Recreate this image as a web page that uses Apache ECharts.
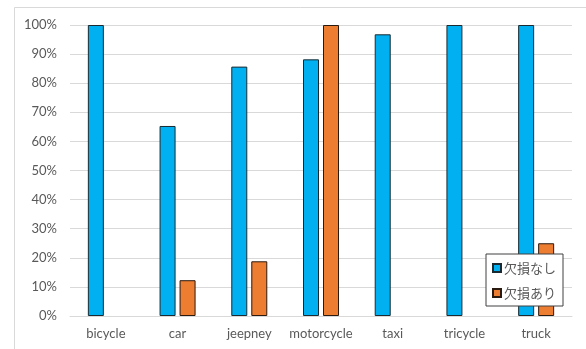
<!DOCTYPE html>
<html>
<head>
<meta charset="utf-8">
<script src="https://cdn.jsdelivr.net/npm/echarts@6/dist/echarts.min.js"></script>
<style>
  html, body { margin: 0; padding: 0; background: #fff; }
  #chart { width: 586px; height: 349px; }
</style>
</head>
<body>
<div id="chart"></div>
<script>
// Vehicle types on the category axis
const categories = ['bicycle', 'car', 'jeepney', 'motorcycle', 'taxi', 'tricycle', 'truck'];
// Share (%) without missing data
const seriesNoMissing = [100, 65.3, 85.7, 88.2, 96.8, 100, 100];
// Share (%) with missing data (null = no bar)
const seriesMissing = [null, 12.3, 18.8, 100, null, null, 25];
// Value axis tick settings
const yTicks = { min: 0, max: 100, interval: 10 };

const latin = 'Lato, "Noto Sans CJK JP", sans-serif';
const chart = echarts.init(document.getElementById('chart'), null, { renderer: 'canvas' });

chart.setOption({
  animation: false,
  backgroundColor: '#ffffff',
  textStyle: { fontFamily: latin },
  graphic: [{
    type: 'rect',
    shape: { x: 14.5, y: 7.5, width: 600, height: 400 },
    style: { fill: 'none', stroke: '#d9d9d9', lineWidth: 1 },
    silent: true,
    z: -10
  }],
  grid: { left: 70, right: 14, top: 25, bottom: 33, containLabel: false },
  legend: {
    orient: 'vertical',
    left: 486,
    top: 254,
    padding: [7, 7, 6, 6],
    itemWidth: 8,
    itemHeight: 8,
    itemGap: 11,
    backgroundColor: '#ffffff',
    borderColor: '#404040',
    borderWidth: 1,
    borderRadius: 0,
    icon: 'rect',
    textStyle: {
      fontFamily: '"Noto Sans CJK JP", sans-serif',
      fontSize: 13,
      lineHeight: 14,
      color: '#595959',
      padding: [0, 0, 0, -2]
    },
    data: ['欠損なし', '欠損あり']
  },
  xAxis: {
    type: 'category',
    data: categories,
    axisLine: { show: true, lineStyle: { color: '#d9d9d9', width: 1 } },
    axisTick: { show: false },
    axisLabel: { color: '#595959', fontSize: 13, margin: 11, interval: 0, fontFamily: latin },
    splitLine: { show: false }
  },
  yAxis: {
    type: 'value',
    min: yTicks.min,
    max: yTicks.max,
    interval: yTicks.interval,
    axisLine: { show: false },
    axisTick: { show: false },
    axisLabel: { color: '#595959', fontSize: 13, margin: 13, formatter: '{value}%', fontFamily: latin },
    splitLine: { show: true, lineStyle: { color: '#d9d9d9', width: 1 } }
  },
  series: [
    {
      name: '欠損なし',
      type: 'bar',
      data: seriesNoMissing,
      barWidth: 16,
      barGap: '25%',
      itemStyle: { color: '#00B0F0', borderColor: '#1a2a30', borderWidth: 1 }
    },
    {
      name: '欠損あり',
      type: 'bar',
      data: seriesMissing,
      barWidth: 16,
      barGap: '25%',
      itemStyle: { color: '#ED7D31', borderColor: '#2a1a10', borderWidth: 1 }
    }
  ]
});
</script>
</body>
</html>
